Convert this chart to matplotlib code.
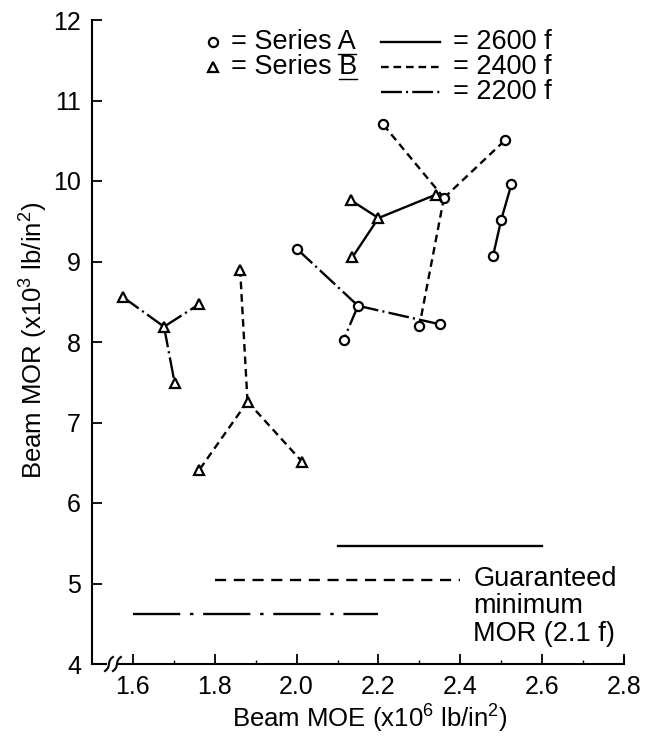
import numpy as np
import matplotlib
matplotlib.use("Agg")
import matplotlib.pyplot as plt
from matplotlib.lines import Line2D

plt.rcParams['font.family'] = ['Liberation Sans', 'DejaVu Sans']
plt.rcParams['mathtext.default'] = 'regular'
plt.rcParams['lines.scale_dashes'] = False

# ---------------- data ----------------
# Series A (circles): hub + arms
a2400_hub = (2.36, 9.79)
a2400_arm_x = [2.21, 2.51, 2.30]
a2400_arm_y = [10.71, 10.51, 8.20]

a2200_hub = (2.15, 8.45)
a2200_arm_x = [2.00, 2.115, 2.35]
a2200_arm_y = [9.16, 8.03, 8.22]

a2600_x = [2.48, 2.50, 2.525]
a2600_y = [9.07, 9.52, 9.96]

# Series B (triangles): hub + arms
b2600_hub = (2.20, 9.54)
b2600_arm_x = [2.133, 2.136, 2.34]
b2600_arm_y = [9.76, 9.05, 9.83]

b2200_hub = (1.676, 8.19)
b2200_arm_x = [1.575, 1.762, 1.702]
b2200_arm_y = [8.56, 8.47, 7.49]

b2400_hub = (1.88, 7.26)
b2400_arm_x = [1.862, 1.762, 2.014]
b2400_arm_y = [8.90, 6.41, 6.51]

# Guaranteed minimum MOR (2.1 f)
grades = [2600, 2400, 2200]
grade_x0 = [2.1, 1.8, 1.6]
grade_x1 = [2.6, 2.4, 2.2]
grade_labels = ["= 2600 f", "= 2400 f", "= 2200 f"]

x_ticks = [1.6, 1.8, 2.0, 2.2, 2.4, 2.6, 2.8]
x_ticklabels = ["1.6", "1.8", "2.0", "2.2", "2.4", "2.6", "2.8"]
y_ticks = [4, 5, 6, 7, 8, 9, 10, 11, 12]

# ---------------- styles ----------------
LW = 1.7
styles = {
    2600: '-',
    2400: (0, (5.5, 3.5)),
    2200: (0, (15, 3, 1.5, 3)),
}
guar_styles = {
    2600: '-',
    2400: (0, (8, 5.5)),
    2200: (0, (34, 7, 2.5, 7)),
}
circ = dict(marker='o', ms=6.6, mfc='white', mec='black', mew=1.6, ls='none', zorder=5)
tri = dict(marker='^', ms=7.6, mfc='white', mec='black', mew=1.6, ls='none', zorder=5)

fig = plt.figure(figsize=(6.52, 7.42), dpi=100)
W, H = 652, 742
ax = fig.add_axes([92 / W, 1 - 664 / H, (624 - 92) / W, (664 - 20) / H])
ax.set_xlim(1.5, 2.8)
ax.set_ylim(4, 12)

FS = 19.5      # legend / annotation text
FS_TICK = 18
FS_LAB = 18.5


def hub(h, xs, ys, grade, mk):
    for x, y in zip(xs, ys):
        ax.plot([h[0], x], [h[1], y], color='black', lw=LW, ls=styles[grade], zorder=3)
    ax.plot(list(xs) + [h[0]], list(ys) + [h[1]], **mk)


hub(a2400_hub, a2400_arm_x, a2400_arm_y, 2400, circ)
hub(a2200_hub, a2200_arm_x, a2200_arm_y, 2200, circ)
ax.plot(a2600_x, a2600_y, color='black', lw=LW, ls=styles[2600], zorder=3)
ax.plot(a2600_x, a2600_y, **circ)
hub(b2600_hub, b2600_arm_x, b2600_arm_y, 2600, tri)
hub(b2200_hub, b2200_arm_x, b2200_arm_y, 2200, tri)
hub(b2400_hub, b2400_arm_x, b2400_arm_y, 2400, tri)

# guaranteed minimum lines
for g, x0, x1 in zip(grades, grade_x0, grade_x1):
    yv = 2.1 * g / 1000.0
    ax.plot([x0, x1], [yv, yv], color='black', lw=1.7, ls=guar_styles[g])
ax.text(2.432, 5.22, "Guaranteed\nminimum\nMOR (2.1 f)", fontsize=FS,
        ha='left', va='top', linespacing=1.07)

# legend (drawn as text inside the axes)
leg_y = [12 - 22 / 80.5, 12 - 47 / 80.5, 12 - 72 / 80.5]
ax.plot([1.795], [leg_y[0]], **circ)
ax.plot([1.795], [leg_y[1]], **tri)
series_texts = []
for yy, s in zip(leg_y[:2], ["= Series A", "= Series B"]):
    t = ax.text(1.84, yy, s, fontsize=FS, ha='left', va='center')
    series_texts.append(t)
for yy, g, lab in zip(leg_y, grades, grade_labels):
    ax.plot([2.205, 2.351], [yy, yy], color='black', lw=LW, ls=styles[g])
    ax.text(2.383, yy, lab, fontsize=FS, ha='left', va='center')

# axes styling
for s in ['top', 'right', 'bottom']:
    ax.spines[s].set_visible(False)
ax.spines['left'].set_linewidth(1.5)
ax.set_xticks(x_ticks)
ax.set_xticklabels(x_ticklabels)
ax.set_xticks([1.7, 1.9, 2.1, 2.3, 2.5, 2.7], minor=True)
ax.set_yticks(y_ticks)
ax.tick_params(axis='both', which='major', direction='in', length=7, width=1.3,
               labelsize=FS_TICK)
ax.tick_params(axis='x', which='minor', direction='in', length=3, width=1.0)
ax.tick_params(axis='x', which='major', pad=8)
ax.tick_params(axis='y', which='major', pad=8)

# bottom axis line with break symbol
px = 1 / 410.0
py = 1 / 80.5
kw = dict(color='black', lw=1.5, clip_on=False, zorder=6)
ax.plot([1.5, 1.5 + 14 * px], [4, 4], **kw)
t = np.linspace(-1, 1, 30)
for xc in [1.5 + 17 * px, 1.5 + 25 * px]:
    ax.plot(xc + 3 * px * t ** 3 + 1.0 * px * t, 4 + 7 * py * t, **kw)
ax.plot([1.5 + 27 * px, 2.8], [4, 4], **kw)
ax.plot([2.8, 2.8], [4, 4 + 7 * py], **kw)

# axis labels
fig.text(370 / W, 1 - 719 / H, "Beam MOE (x10$^6$ lb/in$^2$)", fontsize=FS_LAB,
         ha='center', va='center')
fig.text(34 / W, 1 - 340 / H, "Beam MOR (x10$^3$ lb/in$^2$)", fontsize=FS_LAB,
         ha='center', va='center', rotation=90)

# underline the series letters
fig.canvas.draw()
r = fig.canvas.get_renderer()
for tt in series_texts:
    bb = tt.get_window_extent(r)
    probe = ax.text(0, 0, tt.get_text()[-1], fontsize=FS)
    wA = probe.get_window_extent(r).width
    probe.remove()
    ybase = ax.transData.transform((0, tt.get_position()[1]))[1] - 11.5
    fig.add_artist(Line2D([bb.x1 - wA, bb.x1], [ybase, ybase], transform=None,
                          color='black', lw=1.0))

fig.savefig("out.png", dpi=100)
